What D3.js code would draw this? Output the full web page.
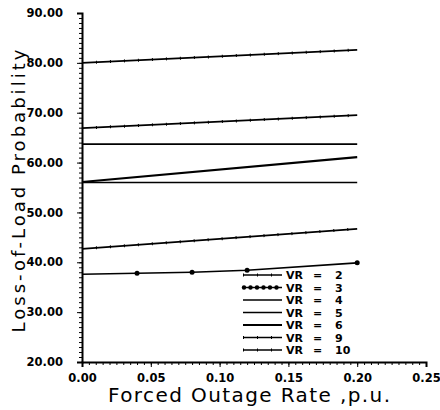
<!DOCTYPE html>
<html>
<head>
<meta charset="utf-8">
<script src="https://cdn.jsdelivr.net/npm/d3@7"></script>
<style>
  body { margin: 0; background: #fff; }
  text { font-family: 'DejaVu Sans', sans-serif; fill: #000; }
</style>
</head>
<body>
<div id="chart"></div>
<script>
// forced outage rate (p.u.) at the plotted points
var foEnds = [0, 0.20]
var vr3X = [0, 0.04, 0.08, 0.12, 0.20]

// loss-of-load probability per VR curve
var vr2 = [42.7, 46.7]
var vr3 = [37.6, 37.8, 38.0, 38.4, 39.9]
var vr4 = [56.0, 56.0]
var vr5 = [63.7, 63.7]
var vr6 = [56.1, 61.1]
var vr9 = [80.0, 82.6]
var vr10 = [66.9, 69.5]

var legendNames = ['2', '3', '4', '5', '6', '9', '10']
var xTicks = [0, 0.05, 0.10, 0.15, 0.20, 0.25]
var yTicks = [20, 30, 40, 50, 60, 70, 80, 90]

var series = [
  {name: '2', xs: foEnds, ys: vr2, style: 'tick'},
  {name: '3', xs: vr3X, ys: vr3, style: 'dots'},
  {name: '4', xs: foEnds, ys: vr4, style: 'thin'},
  {name: '5', xs: foEnds, ys: vr5, style: 'solid'},
  {name: '6', xs: foEnds, ys: vr6, style: 'thick'},
  {name: '9', xs: foEnds, ys: vr9, style: 'tick'},
  {name: '10', xs: foEnds, ys: vr10, style: 'tick'},
]

var W = 440, H = 410
var svg = d3.select('#chart').append('svg').attr('width', W).attr('height', H)

var x = d3.scaleLinear().domain([0, 0.25]).range([82, 426])
var y = d3.scaleLinear().domain([20, 90]).range([362, 13])

// axes
var gx = svg.append('g').attr('transform', 'translate(0,362)')
gx.call(d3.axisBottom(x).tickValues(d3.range(0, 0.2501, 0.005)).tickSize(3).tickFormat(''))
gx.call(g => g.select('.domain').remove())
gx.append('g').call(d3.axisBottom(x).tickValues(xTicks).tickSize(5).tickFormat(d3.format('.2f')))
gx.selectAll('line').attr('stroke', '#000').attr('stroke-width', 1)
gx.selectAll('.domain').attr('stroke', '#000').attr('stroke-width', 2)
gx.selectAll('text').attr('font-size', 11.5).attr('font-weight', 'bold').attr('dy', '1.0em')

var gy = svg.append('g').attr('transform', 'translate(82,0)')
gy.call(d3.axisLeft(y).tickValues(d3.range(20, 90.01, 1)).tickSize(3).tickFormat(''))
gy.call(g => g.select('.domain').remove())
gy.append('g').call(d3.axisLeft(y).tickValues(yTicks).tickSize(5).tickFormat(d3.format('.2f')))
gy.selectAll('line').attr('stroke', '#000').attr('stroke-width', 1)
gy.selectAll('.domain').attr('stroke', '#000').attr('stroke-width', 2)
gy.selectAll('text').attr('font-size', 11.5).attr('font-weight', 'bold').attr('x', -19)

// titles
svg.append('text')
  .attr('transform', 'translate(25,191) rotate(-90)')
  .attr('text-anchor', 'middle')
  .attr('font-size', 18)
  .attr('textLength', 283).attr('lengthAdjust', 'spacing')
  .text('Loss-of-Load Probability')

svg.append('text')
  .attr('x', 249).attr('y', 402)
  .attr('text-anchor', 'middle')
  .attr('font-size', 20)
  .attr('textLength', 282).attr('lengthAdjust', 'spacing')
  .text('Forced Outage Rate ,p.u.')

// line drawing with style
function drawStyled(g, pts, style){
  var line = d3.line()
  var w = style == 'thick' ? 2.2 : style == 'thin' ? 1.3 : 1.7
  g.append('path').attr('d', line(pts))
    .attr('fill', 'none').attr('stroke', '#000').attr('stroke-width', w)
  if (style == 'tick'){
    g.append('path').attr('d', line(pts))
      .attr('fill', 'none').attr('stroke', '#000').attr('stroke-width', 3)
      .attr('stroke-dasharray', '1,13')
  }
}

var gl = svg.append('g')
series.forEach(s => {
  var pts = s.xs.map((v, i) => [x(v), y(s.ys[i])])
  drawStyled(gl.append('g'), pts, s.style)
  if (s.style == 'dots'){
    gl.selectAll(null).data(pts.slice(1)).enter().append('circle')
      .attr('cx', d => d[0]).attr('cy', d => d[1]).attr('r', 2.5).attr('fill', '#000')
  }
})

// legend
var lg = svg.append('g')
series.forEach((s, i) => {
  var yy = 275 + i*12.5
  var g = lg.append('g')
  drawStyled(g, [[243, yy], [282, yy]], s.style)
  if (s.style == 'dots'){
    g.selectAll(null).data(d3.range(244, 283, 6.5)).enter().append('circle')
      .attr('cx', d => d).attr('cy', yy).attr('r', 2.2).attr('fill', '#000')
  }
  g.append('text').attr('x', 286).attr('y', yy).attr('dy', '0.38em')
    .attr('font-size', 11).attr('font-weight', 'bold').text('VR')
  g.append('text').attr('x', 313).attr('y', yy).attr('dy', '0.38em')
    .attr('font-size', 11).attr('font-weight', 'bold').text('=')
  g.append('text').attr('x', 335).attr('y', yy).attr('dy', '0.38em')
    .attr('font-size', 11).attr('font-weight', 'bold').text(legendNames[i])
})
</script>
</body>
</html>
